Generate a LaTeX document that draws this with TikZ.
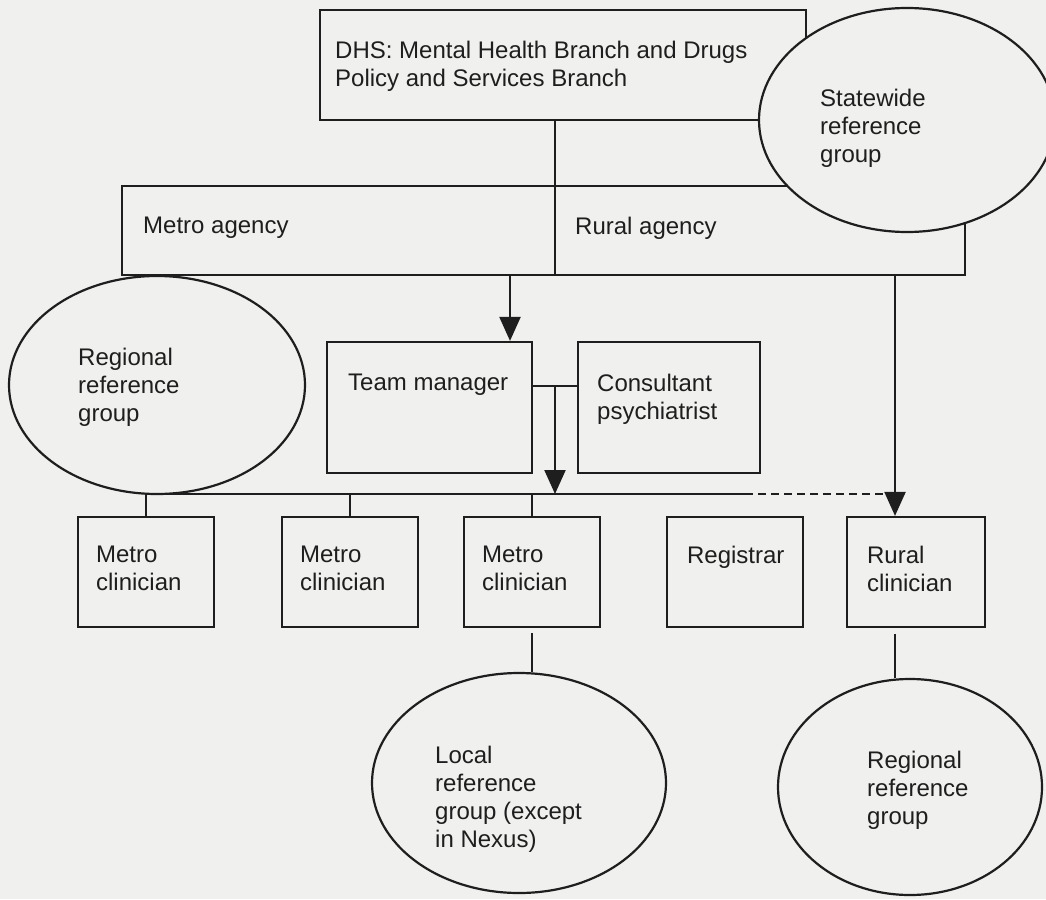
\documentclass[tikz,border=0pt]{standalone}
\usepackage{fontspec}
\setmainfont{Liberation Sans}
\usetikzlibrary{arrows.meta,shapes.geometric}
\definecolor{paper}{RGB}{240,240,238}
\definecolor{ink}{RGB}{30,30,30}
\begin{document}
\begin{tikzpicture}[x=1pt,y=-1pt,
  every node/.style={font=\fontsize{24}{28}\selectfont, text=ink},
  box/.style={draw=ink, line width=2.2pt, rectangle, inner sep=0pt},
  grp/.style={draw=ink, line width=2.2pt, ellipse, fill=paper, inner sep=0pt},
  lbl/.style={anchor=north west, align=left, inner sep=0pt},
  link/.style={draw=ink, line width=2.2pt},
  arr/.style={link, -{Triangle[length=24pt,width=21pt]}}]
\fill[paper] (0,0) rectangle (1046,899);
\useasboundingbox (0,0) rectangle (1046,899);

\node[grp, minimum width=296pt, minimum height=218pt] (regL) at (157,385) {};
\node[grp, minimum width=294pt, minimum height=220pt] (local) at (519,783) {};
\node[grp, minimum width=264pt, minimum height=216pt] (regR) at (910,787) {};

\node[box, minimum width=486pt, minimum height=110pt] (dhs) at (563,65) {};
\node[box, minimum width=843pt, minimum height=89pt] (agency) at (543.5,230.5) {};
\node[box, minimum width=205pt, minimum height=131pt] (tm) at (429.5,407.5) {};
\node[box, minimum width=182pt, minimum height=131pt] (cp) at (669,407.5) {};
\node[box, minimum width=136pt, minimum height=110pt] (m1) at (146,572) {};
\node[box, minimum width=136pt, minimum height=110pt] (m2) at (350,572) {};
\node[box, minimum width=136pt, minimum height=110pt] (m3) at (532,572) {};
\node[box, minimum width=136pt, minimum height=110pt] (reg) at (735,572) {};
\node[box, minimum width=138pt, minimum height=110pt] (rur) at (916,572) {};

\node[grp, minimum width=296pt, minimum height=224pt] (state) at (907,120) {};

\coordinate (split) at (555,0);
\coordinate (tmin) at (510,0);
\coordinate (rurin) at (895,0);
\coordinate (tmcp) at (555,386);
\coordinate (bus) at (0,494);
\coordinate (dashfrom) at (745,494);

\draw[link] (split |- dhs.south) -- (split |- agency.south);
\draw[arr] (tmin |- agency.south) -- (tmin |- tm.north);
\draw[arr] (rurin |- agency.south) -- (rurin |- rur.north);
\draw[link] (tm.east |- tmcp) -- (cp.west |- tmcp);
\draw[arr] (tmcp) -- (tmcp |- bus);
\draw[link] (m1.north |- bus) -- (dashfrom);
\draw[link, dash pattern=on 8pt off 5pt] (dashfrom) -- (rurin |- bus);
\foreach \b in {m1,m2,m3}
  \draw[link] (\b.north) -- (\b.north |- bus);
\draw[link, shorten <=5pt] (m3.south) -- (m3.south |- local.north);
\draw[link, shorten <=6pt] (rurin |- rur.south) -- (rurin |- regR.north);

\node[lbl] (dhstxt) at (335,41) {DHS: Mental Health Branch and Drugs\\Policy and Services Branch};
\node[lbl] (statetxt) at (820,89) {Statewide\\reference\\group};
\node[lbl] (metrotxt) at (143,217) {Metro agency};
\node[lbl] (ruraltxt) at (575,217) {Rural agency};
\node[lbl] (regLtxt) at (78,348) {Regional\\reference\\group};
\node[lbl] (tmtxt) at (348,374) {Team manager};
\node[lbl] (cptxt) at (597,374) {Consultant\\psychiatrist};
\foreach \b in {m1,m2,m3}
  \node[lbl] (\b txt) at ([shift={(19,30)}]\b.north west) {Metro\\clinician};
\node[lbl] (regtxt) at ([shift={(21,30)}]reg.north west) {Registrar};
\node[lbl] (rurtxt) at ([shift={(21,30)}]rur.north west) {Rural\\clinician};
\node[lbl] (localtxt) at (435,746) {Local\\reference\\group (except\\in Nexus)};
\node[lbl] (regRtxt) at (867,751) {Regional\\reference\\group};
\end{tikzpicture}
\end{document}
